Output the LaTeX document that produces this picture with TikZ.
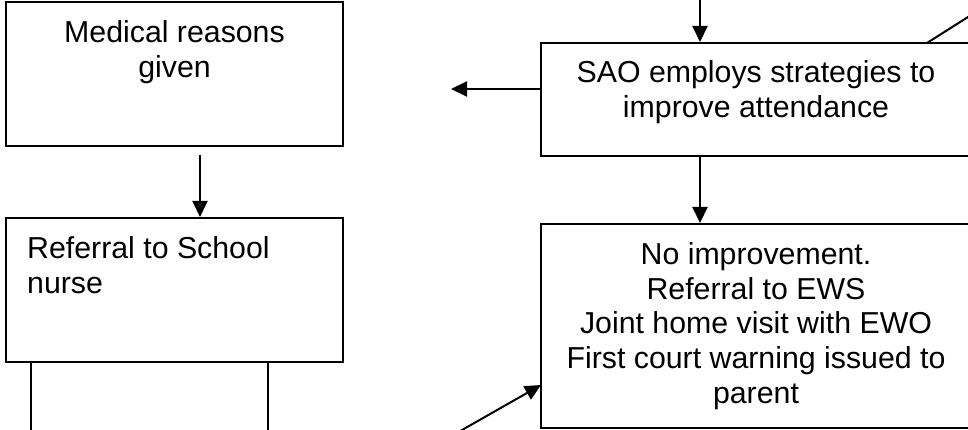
\documentclass[tikz,border=0pt]{standalone}
\usepackage{fontspec}
\setmainfont{Liberation Sans}
\usetikzlibrary{arrows.meta,calc}
\begin{document}
\begin{tikzpicture}[x=1pt,y=-1pt,
  box/.style={draw,line width=2pt,inner sep=0pt},
  txt/.style={inner sep=0pt,font=\fontsize{30.3}{34.7}\selectfont},
  arr/.style={line width=2pt,-{Triangle[length=16pt,width=15pt]}},
  ln/.style={line width=2pt}]
\fill[white] (0,0) rectangle (968,430);
\clip (0,0) rectangle (968,430);
% boxes
\node[box,minimum width=337pt,minimum height=144pt] (med) at (174.5,74) {};
\node[box,minimum width=337pt,minimum height=144pt] (ref) at (174.5,290) {};
\node[box,minimum width=430pt,minimum height=113pt] (sao) at (756,99.5) {};
\node[box,minimum width=430pt,minimum height=204pt] (noimp) at (756,326) {};
% texts
\node[txt,anchor=north,align=center] (medtxt) at (174.5,18) {\strut Medical reasons\\given};
\node[txt,anchor=north west,align=left] (reftxt) at (27,234) {\strut Referral to School\\nurse};
\node[txt,anchor=north,align=center] (saotxt) at (756,58) {\strut SAO employs strategies to\\improve attendance};
\node[txt,anchor=north,align=center] (noimptxt) at (756,240) {\strut No improvement.\\Referral to EWS\\Joint home visit with EWO\\First court warning issued to\\parent};
% free ends
\coordinate (topin) at (700,-5);
\coordinate (a1s) at (200,155);
\coordinate (leftend) at (451,89);
\coordinate (trs) at (927,43);
\coordinate (tre) at (1000,-3.3);
\coordinate (l1) at (30.7,440);
\coordinate (l2) at (268,440);
\coordinate (dgs) at (444.5,440);
\coordinate (dge) at (541,385);
% connectors
\draw[arr] (topin) -- (topin |- sao.north);
\draw[arr] (a1s) -- (a1s |- ref.north);
\draw[arr] (sao.west |- leftend) -- (leftend);
\draw[ln] (trs) -- (tre);
\draw[arr] (sao.south -| topin) -- (topin |- noimp.north);
\draw[ln] (l1 |- ref.south) -- (l1);
\draw[ln] (l2 |- ref.south) -- (l2);
\draw[arr] (dgs) -- (dge);
\end{tikzpicture}
\end{document}
